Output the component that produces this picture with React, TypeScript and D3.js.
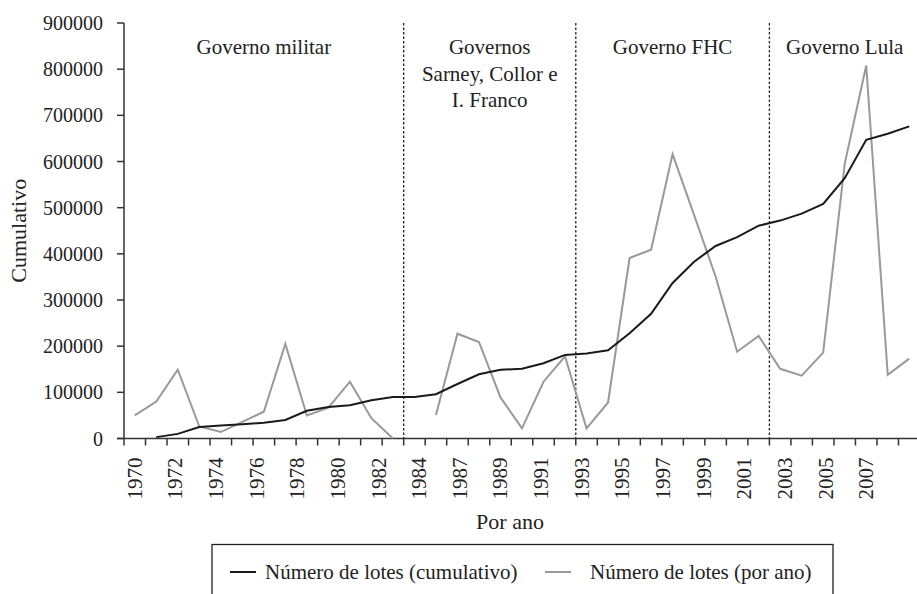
import React, { useRef, useEffect } from 'react';
import * as d3 from 'd3';

// rótulos do eixo X (distribuídos como no original)
const xLabels = [
  '1970', '1972', '1974', '1976', '1978', '1980', '1982', '1984',
  '1987', '1989', '1991', '1993', '1995', '1997', '1999', '2001', '2003', '2005', '2007'
];

// Número de lotes (cumulativo), um valor por categoria
const cumulativo: (number | null)[] = [
  null, 3000, 10000, 25000, 28000, 31000, 34000, 40000, 60000, 68000, 72000, 83000, 90000,
  90000, 96000, 118000, 139000, 149000, 151000, 163000, 181000, 184000, 191000, 228000,
  270000, 337000, 383000, 417000, 436000, 461000, 472000, 487000, 508000, 564000, 647000,
  660000, 676000
];

// Número de lotes (por ano)
const porAno: (number | null)[] = [
  50000, 80000, 149000, 26000, 14000, 36000, 58000, 205000, 50000, 67000, 123000, 44000, 0,
  null, 51000, 227000, 209000, 89000, 22000, 123000, 178000, 22000, 78000, 391000, 409000,
  616000, 484000, 351000, 188000, 222000, 151000, 136000, 186000, 595000, 808000, 138000,
  173000
];

// períodos de governo: índice da primeira categoria de cada um
const governos = [
  { inicio: 0, linhas: ['Governo militar'] },
  { inicio: 13, linhas: ['Governos', 'Sarney, Collor e', 'I. Franco'] },
  { inicio: 21, linhas: ['Governo FHC'] },
  { inicio: 30, linhas: ['Governo Lula'] }
];

const yTicks = [0, 100000, 200000, 300000, 400000, 500000, 600000, 700000, 800000, 900000];

export default function App(): JSX.Element {
  const svgRef = useRef<SVGSVGElement>(null);

  useEffect(() => {
    const el = svgRef.current;
    if (el == null) return;
    const svg = d3.select(el);
    svg.selectAll('*').remove();

    const font = "'Liberation Serif', 'Times New Roman', serif";
    const axisColor = '#333';
    const textColor = '#222';
    const n = porAno.length;
    const left = 124;
    const right = 920;
    const top = 23;
    const bottom = 438.5;

    const x = d3.scaleLinear().domain([-0.5, n - 0.5]).range([left, right]);
    const y = d3.scaleLinear().domain([0, 900000]).range([bottom, top]);
    const xLab = d3.scalePoint<string>().domain(xLabels).range([x(0), x(34)]);

    const g = svg.append('g');

    // linhas tracejadas dos períodos
    governos.slice(1).forEach((gv) => {
      g.append('line')
        .attr('x1', x(gv.inicio - 0.5))
        .attr('x2', x(gv.inicio - 0.5))
        .attr('y1', top)
        .attr('y2', bottom)
        .attr('stroke', '#222')
        .attr('stroke-width', 1.3)
        .attr('stroke-dasharray', '2.5,2');
    });

    // nomes dos governos
    governos.forEach((gv, i) => {
      const x0 = x(gv.inicio - 0.5);
      const x1 = i < governos.length - 1 ? x(governos[i + 1].inicio - 0.5) : x(n - 0.5);
      const t = g.append('text')
        .attr('x', (x0 + x1) / 2)
        .attr('y', 54)
        .attr('text-anchor', 'middle')
        .attr('font-family', font)
        .attr('font-size', 21)
        .attr('fill', textColor);
      gv.linhas.forEach((l, j) => {
        t.append('tspan').attr('x', (x0 + x1) / 2).attr('dy', j === 0 ? 0 : 26.5).text(l);
      });
    });

    // eixo Y
    g.append('line')
      .attr('x1', left).attr('x2', left).attr('y1', top).attr('y2', bottom)
      .attr('stroke', axisColor).attr('stroke-width', 1.5);
    yTicks.forEach((v) => {
      g.append('line')
        .attr('x1', left - 7).attr('x2', left).attr('y1', y(v)).attr('y2', y(v))
        .attr('stroke', axisColor).attr('stroke-width', 1.5);
      g.append('text')
        .attr('x', left - 21)
        .attr('y', y(v))
        .attr('dy', '0.35em')
        .attr('text-anchor', 'end')
        .attr('font-family', font)
        .attr('font-size', 20)
        .attr('fill', textColor)
        .text(String(v));
    });

    // eixo X
    g.append('line')
      .attr('x1', left - 7).attr('x2', right).attr('y1', bottom).attr('y2', bottom)
      .attr('stroke', axisColor).attr('stroke-width', 1.5);
    d3.range(n + 1).forEach((i) => {
      g.append('line')
        .attr('x1', x(i - 0.5)).attr('x2', x(i - 0.5))
        .attr('y1', bottom).attr('y2', bottom + 7)
        .attr('stroke', axisColor).attr('stroke-width', 1.5);
    });
    xLabels.forEach((l) => {
      g.append('text')
        .attr('transform', `translate(${xLab(l)},${bottom + 19}) rotate(-90)`)
        .attr('text-anchor', 'end')
        .attr('dominant-baseline', 'central')
        .attr('font-family', font)
        .attr('font-size', 21)
        .attr('fill', textColor)
        .text(l);
    });

    // títulos dos eixos
    g.append('text')
      .attr('transform', `translate(26,${(top + bottom) / 2}) rotate(-90)`)
      .attr('text-anchor', 'middle')
      .attr('font-family', font)
      .attr('font-size', 22)
      .attr('fill', textColor)
      .text('Cumulativo');
    g.append('text')
      .attr('x', 510)
      .attr('y', 529)
      .attr('text-anchor', 'middle')
      .attr('font-family', font)
      .attr('font-size', 22)
      .attr('fill', textColor)
      .text('Por ano');

    // séries
    const line = d3.line<number | null>()
      .defined((d) => d != null)
      .x((_, i) => x(i))
      .y((d) => y(d as number));

    g.append('path')
      .datum(porAno)
      .attr('d', line)
      .attr('fill', 'none')
      .attr('stroke', '#999')
      .attr('stroke-width', 2);
    g.append('path')
      .datum(cumulativo)
      .attr('d', line)
      .attr('fill', 'none')
      .attr('stroke', '#1a1a1a')
      .attr('stroke-width', 2);

    // legenda
    g.append('rect')
      .attr('x', 212).attr('y', 544.5).attr('width', 621).attr('height', 60)
      .attr('fill', 'none').attr('stroke', '#222').attr('stroke-width', 1.3);
    const itens = [
      { nome: 'Número de lotes (cumulativo)', cor: '#1a1a1a', x0: 230, tx: 265 },
      { nome: 'Número de lotes (por ano)', cor: '#999', x0: 545, tx: 590 }
    ];
    itens.forEach((it) => {
      g.append('line')
        .attr('x1', it.x0).attr('x2', it.x0 + 26).attr('y1', 572).attr('y2', 572)
        .attr('stroke', it.cor).attr('stroke-width', 2);
      g.append('text')
        .attr('x', it.tx)
        .attr('y', 572)
        .attr('dy', '0.35em')
        .attr('font-family', font)
        .attr('font-size', 21)
        .attr('fill', textColor)
        .text(it.nome);
    });
  }, []);

  return (
    <svg
      ref={svgRef}
      width={917}
      height={594}
      style={{ position: 'absolute', left: 0, top: 0, background: '#fff' }}
    />
  );
}
